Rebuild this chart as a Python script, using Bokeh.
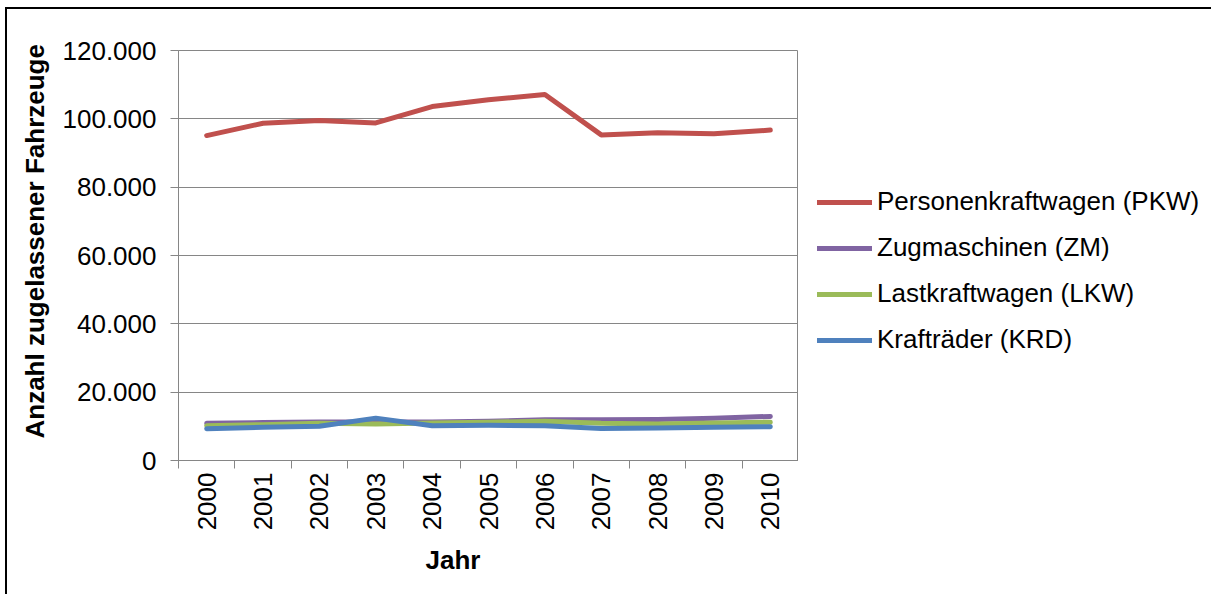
import math
from bokeh.plotting import figure
from bokeh.layouts import row
from bokeh.models import Range1d, FixedTicker, Legend, LegendItem, Title
from bokeh.embed import file_html
from bokeh.resources import INLINE

years = [2000, 2001, 2002, 2003, 2004, 2005, 2006, 2007, 2008, 2009, 2010]
year_labels = [str(y) for y in years]
pkw = [95100, 98700, 99500, 98800, 103600, 105600, 107100, 95300, 95900, 95600, 96700]
zm = [10900, 11100, 11300, 11300, 11300, 11500, 11900, 11900, 12000, 12400, 12900]
lkw = [10200, 10500, 10900, 10700, 11000, 11200, 11500, 10900, 10700, 11000, 11200]
krd = [9300, 9700, 10000, 12400, 10200, 10300, 10200, 9400, 9500, 9700, 9900]
series_names = ["Personenkraftwagen (PKW)", "Zugmaschinen (ZM)", "Lastkraftwagen (LKW)", "Krafträder (KRD)"]
series_colors = ["#C0504D", "#8064A2", "#9BBB59", "#4F81BD"]
y_ticks = [0, 20000, 40000, 60000, 80000, 100000, 120000]
y_tick_labels = ["0", "20.000", "40.000", "60.000", "80.000", "100.000", "120.000"]
x_title = "Jahr"
y_title = "Anzahl zugelassener Fahrzeuge"

FONT = "Liberation Sans"
GRAY = "#868686"

p = figure(width=791, height=585, output_backend="svg", toolbar_location=None,
           x_range=Range1d(years[0] - 0.5, years[-1] + 0.5),
           y_range=Range1d(y_ticks[0], y_ticks[-1]),
           min_border_left=171, min_border_top=41, min_border_right=0, min_border_bottom=134)

p.outline_line_color = GRAY
p.outline_line_width = 1
p.xgrid.grid_line_color = None
p.ygrid.grid_line_color = GRAY
p.ygrid.grid_line_width = 1

# axes
p.yaxis.ticker = FixedTicker(ticks=y_ticks)
p.yaxis.major_label_overrides = {t: l for t, l in zip(y_ticks, y_tick_labels)}
p.yaxis.major_tick_out = 8
p.yaxis.major_tick_in = 0
p.yaxis.minor_tick_out = 0
p.yaxis.minor_tick_in = 0
p.yaxis.axis_line_color = GRAY
p.yaxis.major_tick_line_color = GRAY
p.yaxis.major_label_text_font = FONT
p.yaxis.major_label_text_font_size = "26px"
p.yaxis.major_label_text_color = "black"
p.yaxis.major_label_standoff = 14

boundaries = [years[0] - 0.5 + i for i in range(len(years) + 1)]
p.xaxis.ticker = FixedTicker(ticks=years, minor_ticks=boundaries)
p.xaxis.major_label_overrides = {y: l for y, l in zip(years, year_labels)}
p.xaxis.major_tick_out = 0
p.xaxis.major_tick_in = 0
p.xaxis.minor_tick_out = 8
p.xaxis.minor_tick_in = 0
p.xaxis.minor_tick_line_color = GRAY
p.xaxis.axis_line_color = GRAY
p.xaxis.major_label_orientation = math.pi / 2
p.xaxis.major_label_text_font = FONT
p.xaxis.major_label_text_font_size = "26px"
p.xaxis.major_label_text_color = "black"
p.xaxis.major_label_standoff = 4

p.add_layout(Title(text=x_title, align="left", offset=247, standoff=18,
                   text_font=FONT, text_font_size="26px", text_font_style="bold",
                   text_color="black"), "below")
p.add_layout(Title(text=y_title, align="left", offset=16, standoff=8, padding=6,
                   text_font=FONT, text_font_size="26px", text_font_style="bold",
                   text_color="black"), "left")

for vals, col in zip([pkw, zm, lkw, krd], series_colors):
    p.line(years, vals, line_color=col, line_width=5, line_cap="round", line_join="round")

# legend panel to the right of the plot area (series drawn off-screen here)
pl = figure(width=413, height=585, output_backend="svg", toolbar_location=None,
            x_range=Range1d(0, 1), y_range=Range1d(0, 1), min_border=0)
pl.axis.visible = False
pl.grid.grid_line_color = None
pl.outline_line_color = None
items = []
for name, vals, col in zip(series_names, [pkw, zm, lkw, krd], series_colors):
    r = pl.line(years, vals, line_color=col, line_width=5, line_cap="round")
    items.append(LegendItem(label=name, renderers=[r]))
legend = Legend(items=items, location=(19, 105),
                label_text_font=FONT, label_text_font_size="26px", label_text_color="black",
                glyph_width=55, glyph_height=30, label_height=30, label_standoff=5,
                spacing=15, padding=0, margin=0,
                border_line_color=None, background_fill_alpha=0)
pl.add_layout(legend, "center")

layout = row(p, pl, spacing=0,
             styles={"border-left": "2px solid black", "border-top": "2px solid black",
                     "margin-left": "5px", "margin-top": "7px"})

open("out.html", "w").write(file_html(layout, INLINE))
